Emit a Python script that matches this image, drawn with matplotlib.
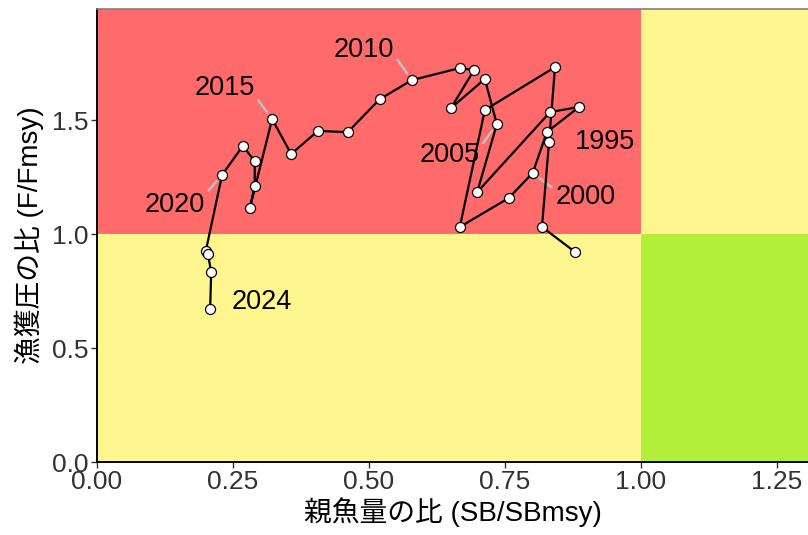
import numpy as np
import matplotlib
matplotlib.use('Agg')
import matplotlib.pyplot as plt

plt.rcParams['font.family'] = ['Liberation Sans', 'Noto Sans CJK JP', 'DejaVu Sans']

years = list(range(1993, 2025))
sb_ratio = [0.879, 0.818, 0.831, 0.842, 0.713, 0.667, 0.757, 0.801, 0.827, 0.886,
            0.833, 0.699, 0.735, 0.713, 0.651, 0.693, 0.667, 0.579, 0.520, 0.461,
            0.406, 0.357, 0.322, 0.281, 0.290, 0.290, 0.268, 0.230, 0.200, 0.204,
            0.210, 0.208]
f_ratio = [0.921, 1.031, 1.404, 1.732, 1.544, 1.031, 1.158, 1.268, 1.447, 1.557,
           1.535, 1.184, 1.482, 1.680, 1.553, 1.719, 1.728, 1.675, 1.592, 1.447,
           1.452, 1.351, 1.504, 1.114, 1.211, 1.320, 1.386, 1.259, 0.925, 0.912,
           0.833, 0.671]

label_years = [1995, 2000, 2005, 2010, 2015, 2020, 2024]
# where each year label sits (x, y) and where its leader line leaves the text box
label_pos = [(0.934, 1.404), (0.899, 1.162), (0.649, 1.346), (0.491, 1.807),
             (0.235, 1.640), (0.143, 1.127), (0.303, 0.702)]
label_rel = [None, (0, 0.75), (1, 0.8), (1, 0.3), (1, 0.2), (1, 0.9), None]

xmax = 1.307
ymax = 1.987

fig = plt.figure(figsize=(8.08, 5.35), dpi=100)
ax = fig.add_axes([0.120, 0.1364, 0.880, 0.8468])

# zones
ax.fill_between([0, 1], 1, ymax, color='#FF6A6A', lw=0, zorder=0)
ax.fill_between([0, 1], 0, 1, color='#FFF68F', lw=0, zorder=0)
ax.fill_between([1, xmax], 1, ymax, color='#FFF68F', lw=0, zorder=0)
ax.fill_between([1, xmax], 0, 1, color='#B3EE3A', lw=0, zorder=0)

ax.plot(sb_ratio, f_ratio, '-o', color='black', lw=1.6, ms=7.2,
        mfc='white', mec='black', mew=0.9, zorder=3)

for yr, pos, rel in zip(label_years, label_pos, label_rel):
    i = years.index(yr)
    arrow = None
    if rel is not None:
        arrow = dict(arrowstyle='-', color='#BEBEBE', lw=1.8, relpos=rel,
                     patchA=None, shrinkA=4, shrinkB=6)
    ax.annotate(str(yr), xy=(sb_ratio[i], f_ratio[i]), xytext=pos,
                ha='center', va='center', fontsize=19.5, color='black',
                arrowprops=arrow, zorder=2)

ax.set_xlim(0, xmax)
ax.set_ylim(0, ymax)
ax.set_xticks([0, 0.25, 0.5, 0.75, 1.0, 1.25])
ax.set_xticklabels(['0.00', '0.25', '0.50', '0.75', '1.00', '1.25'])
ax.set_yticks([0, 0.5, 1.0, 1.5])
ax.set_yticklabels(['0.0', '0.5', '1.0', '1.5'])
ax.tick_params(labelsize=19, length=4, width=1, color='#333333', labelcolor='#333333', pad=2)

ax.set_xlabel('親魚量の比 (SB/SBmsy)', fontsize=20, labelpad=2)
ax.set_ylabel('漁獲圧の比 (F/Fmsy)', fontsize=20, labelpad=6)

ax.spines['right'].set_visible(False)
ax.spines['top'].set_color('#7F7F7F')
ax.spines['top'].set_linewidth(1.2)
ax.spines['left'].set_linewidth(1.4)
ax.spines['bottom'].set_linewidth(1.4)

fig.savefig('out.png', dpi=100)
